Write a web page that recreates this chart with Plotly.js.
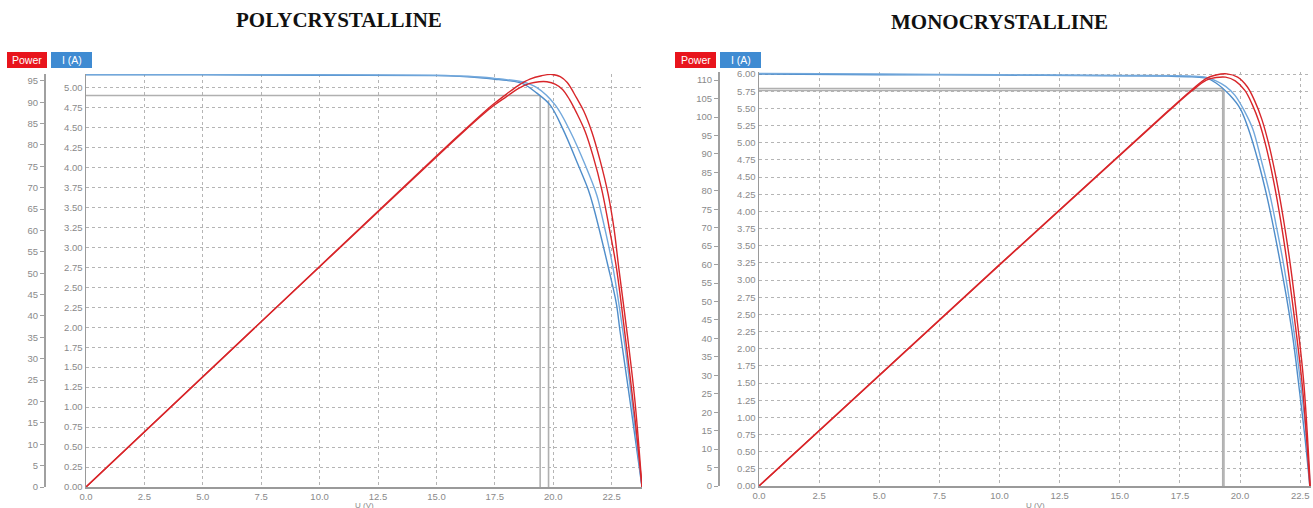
<!DOCTYPE html>
<html>
<head>
<meta charset="utf-8">
<script src="https://cdn.plot.ly/plotly-3.0.1.min.js"></script>
<style>
html,body{margin:0;padding:0;background:#fff;}
#chart{width:1313px;height:508px;}
</style>
</head>
<body>
<div id="chart"></div>
<script>
// ---------- DATA ----------
// POLYCRYSTALLINE panel
const polyTitle = "POLYCRYSTALLINE";
const polyCurA_V = [0, 5, 10, 15, 16, 17, 17.5, 18, 18.7, 19.3, 19.87, 20.43, 21.07, 21.5, 21.7, 22.35, 22.7, 22.86, 23.3, 23.8];
const polyCurA_I = [5.16, 5.16, 5.155, 5.15, 5.14, 5.12, 5.105, 5.09, 5.05, 4.93, 4.78, 4.47, 4.03, 3.72, 3.53, 2.76, 2.3, 1.95, 1.05, 0];
const polyCurB_V = [0, 5, 10, 15, 16, 17, 17.5, 18, 18.7, 19.3, 20.09, 20.73, 21.37, 21.87, 22.0, 22.55, 23.03, 23.4, 23.8];
const polyCurB_I = [5.165, 5.165, 5.16, 5.155, 5.145, 5.13, 5.115, 5.10, 5.07, 5.0, 4.78, 4.45, 4.03, 3.65, 3.5, 2.76, 1.85, 1.0, 0];
const polyPowA_V = [0, 10, 15, 16, 17, 17.5, 18, 18.5, 19, 19.4, 19.73, 20.1, 20.4, 20.7, 21.0, 21.37, 21.7, 22.08, 22.4, 22.7, 23.1, 23.5, 23.8];
const polyPowA_P = [0, 51.5, 77.2, 82.3, 87.2, 89.4, 91.3, 93.2, 94.4, 94.8, 94.8, 94.2, 93.0, 90.6, 87.5, 83.1, 77.5, 69.5, 60.5, 51.5, 34.4, 16.0, 0];
const polyPowB_V = [0, 10, 15, 16, 17, 17.5, 18, 18.5, 19, 19.5, 19.94, 20.3, 20.6, 21.0, 21.3, 21.65, 22.0, 22.35, 22.6, 22.8, 23.2, 23.5, 23.8];
const polyPowB_P = [0, 51.6, 77.4, 82.5, 87.5, 89.8, 91.9, 93.9, 95.4, 96.2, 96.5, 96.0, 94.6, 91.0, 88.0, 83.1, 76.5, 68.5, 60.5, 51.5, 34.4, 20.0, 0];
const polyMppV = [19.44, 19.8];
const polyMppI = [4.9, 4.84];

// MONOCRYSTALLINE panel
const monoTitle = "MONOCRYSTALLINE";
const monoCurA_V = [0, 5, 10, 15, 17, 18, 18.6, 19.0, 19.58, 20.0, 20.35, 20.76, 21.11, 21.4, 21.7, 21.95, 22.2, 22.5, 22.7, 22.9];
const monoCurA_I = [6.0, 5.99, 5.985, 5.975, 5.97, 5.96, 5.94, 5.87, 5.69, 5.50, 5.20, 4.72, 4.23, 3.75, 3.2, 2.71, 2.15, 1.3, 0.7, 0];
const monoCurB_V = [0, 5, 10, 15, 18, 18.6, 19.0, 19.4, 19.79, 20.2, 20.53, 20.9, 21.25, 21.5, 21.8, 22.05, 22.3, 22.55, 22.75, 22.92];
const monoCurB_I = [6.01, 6.0, 5.99, 5.98, 5.97, 5.95, 5.90, 5.82, 5.69, 5.45, 5.20, 4.72, 4.23, 3.8, 3.25, 2.71, 2.1, 1.4, 0.75, 0];
const monoPowA_V = [0, 10, 15, 17, 18, 18.6, 19.0, 19.4, 19.8, 20.2, 20.5, 20.8, 21.1, 21.4, 21.7, 22.0, 22.3, 22.6, 22.9];
const monoPowA_P = [0, 59.9, 89.6, 101.4, 107.1, 110.0, 110.7, 110.8, 109.8, 107.2, 103.5, 98.5, 91.5, 82.5, 71.5, 58.5, 43.5, 26.5, 0];
const monoPowB_V = [0, 10, 15, 17, 18, 18.6, 19.0, 19.45, 19.9, 20.3, 20.6, 20.9, 21.2, 21.5, 21.8, 22.1, 22.4, 22.65, 22.92];
const monoPowB_P = [0, 60.0, 89.7, 101.6, 107.4, 110.5, 111.4, 111.7, 110.8, 108.2, 104.5, 99.5, 92.5, 83.5, 72.5, 59.5, 43.5, 28.0, 0];
const monoMppV = [19.28, 19.33];
const monoMppI = [5.79, 5.76];

const currentTicks = [0,0.25,0.5,0.75,1,1.25,1.5,1.75,2,2.25,2.5,2.75,3,3.25,3.5,3.75,4,4.25,4.5,4.75,5,5.25,5.5,5.75,6];
const legendLabels = ["Power", "I (A)"];
const xTitle = "U (V)";

// ---------- STYLE ----------
const W = 1313, H = 508;
const px = x => x / W;
const py = y => 1 - y / H;
const RED = '#d8262a', BLUE1 = '#4f8dca', BLUE2 = '#72a8dc';
const tickFont = {family: 'Liberation Sans, Arial, sans-serif', size: 9.5, color: '#8a8a8a'};
const xTitleFont = {family: 'Liberation Sans, Arial, sans-serif', size: 8, color: '#8a8a8a'};

function line(x, y, xa, ya, color, w, smooth) {
  return {x: x, y: y, xaxis: xa, yaxis: ya, type: 'scatter', mode: 'lines',
          line: {color: color, width: w || 1.4, shape: smooth ? 'spline' : 'linear', smoothing: 1.0},
          hoverinfo: 'skip', showlegend: false};
}
function mppTraces(vs, is, xa, ya, horizCount) {
  const out = [];
  for (let k = 0; k < vs.length; k++) {
    if (k < horizCount) out.push(line([0, vs[k]], [is[k], is[k]], xa, ya, '#b0b0b0', 1.6));
    out.push(line([vs[k], vs[k]], [0, is[k]], xa, ya, '#b0b0b0', 1.6));
  }
  return out;
}

const traces = [].concat(
  mppTraces(polyMppV, polyMppI, 'x', 'y', 1),
  [
    line(polyCurA_V, polyCurA_I, 'x', 'y', BLUE1, 1.4, true),
    line(polyCurB_V, polyCurB_I, 'x', 'y', BLUE2, 1.4, true),
    line(polyPowA_V, polyPowA_P, 'x', 'y2', RED, 1.4, true),
    line(polyPowB_V, polyPowB_P, 'x', 'y2', RED, 1.4, true)
  ],
  mppTraces(monoMppV, monoMppI, 'x2', 'y3', 2),
  [
    line(monoCurA_V, monoCurA_I, 'x2', 'y3', BLUE1, 1.4, true),
    line(monoCurB_V, monoCurB_I, 'x2', 'y3', BLUE2, 1.4, true),
    line(monoPowA_V, monoPowA_P, 'x2', 'y4', RED, 1.4, true),
    line(monoPowB_V, monoPowB_P, 'x2', 'y4', RED, 1.4, true)
  ]
);

const xCommon = {
  dtick: 2.5, tick0: 0, tickformat: '.1f', showgrid: true, gridcolor: '#b5b5b5', griddash: 'dot', gridwidth: 1,
  showline: true, linecolor: '#9a9a9a', linewidth: 1.5, zeroline: false, ticks: '', tickfont: tickFont, fixedrange: true
};
const curCommon = {
  tickvals: currentTicks, tickformat: '.2f', showgrid: true, gridcolor: '#b5b5b5', griddash: 'dot', gridwidth: 1,
  showline: true, linecolor: '#9a9a9a', linewidth: 1.5, zeroline: false, ticks: '', tickfont: tickFont, fixedrange: true
};
const powCommon = {
  dtick: 5, tick0: 0, showgrid: false, showline: true, linecolor: '#a0a0a0', linewidth: 1.5, zeroline: false,
  ticks: 'outside', ticklen: 4, tickcolor: '#a0a0a0', tickfont: tickFont, fixedrange: true, side: 'left'
};

function ann(text, x, y, font) {
  return {text: text, xref: 'paper', yref: 'paper', x: px(x), y: py(y), xanchor: 'center', yanchor: 'middle',
          showarrow: false, font: font};
}
const titleFont = {family: 'Liberation Serif, Times New Roman, serif', size: 21, color: '#111'};
const legFont = {family: 'Liberation Sans, Arial', size: 10.5, color: '#fff'};

const layout = {
  width: W, height: H, margin: {l: 0, r: 0, t: 0, b: 0}, paper_bgcolor: '#fff', plot_bgcolor: '#fff',
  showlegend: false,
  xaxis: Object.assign({}, xCommon, {domain: [px(86), px(642)], range: [0, 23.8], anchor: 'y'}),
  yaxis: Object.assign({}, curCommon, {domain: [py(487), py(74)], range: [0, 5.17], anchor: 'x'}),
  yaxis2: Object.assign({}, powCommon, {overlaying: 'y', anchor: 'free', position: px(44), range: [0, 96.6]}),
  xaxis2: Object.assign({}, xCommon, {domain: [px(759), px(1311)], range: [0, 22.95], anchor: 'y3'}),
  yaxis3: Object.assign({}, curCommon, {domain: [py(486), py(72)], range: [0, 6.03], anchor: 'x2'}),
  yaxis4: Object.assign({}, powCommon, {overlaying: 'y3', anchor: 'free', position: px(718), range: [0, 112.2]}),
  shapes: [
    {type: 'rect', xref: 'paper', yref: 'paper', x0: px(7), x1: px(47), y0: py(68), y1: py(52), fillcolor: '#e8141c', line: {width: 0}},
    {type: 'rect', xref: 'paper', yref: 'paper', x0: px(51), x1: px(92), y0: py(68), y1: py(52), fillcolor: '#3f8bd2', line: {width: 0}},
    {type: 'rect', xref: 'paper', yref: 'paper', x0: px(675), x1: px(716), y0: py(68), y1: py(52), fillcolor: '#e8141c', line: {width: 0}},
    {type: 'rect', xref: 'paper', yref: 'paper', x0: px(720), x1: px(761), y0: py(68), y1: py(52), fillcolor: '#3f8bd2', line: {width: 0}}
  ],
  annotations: [
    ann('<b>' + polyTitle + '</b>', 339, 20, titleFont),
    ann('<b>' + monoTitle + '</b>', 999, 22, titleFont),
    ann(legendLabels[0], 27, 60, legFont),
    ann(legendLabels[1], 71.5, 60, legFont),
    ann(legendLabels[0], 695.5, 60, legFont),
    ann(legendLabels[1], 740.5, 60, legFont),
    ann(xTitle, 364, 505.5, xTitleFont),
    ann(xTitle, 1035, 505.5, xTitleFont)
  ]
};

Plotly.newPlot('chart', traces, layout, {staticPlot: true, displayModeBar: false});
</script>
</body>
</html>
